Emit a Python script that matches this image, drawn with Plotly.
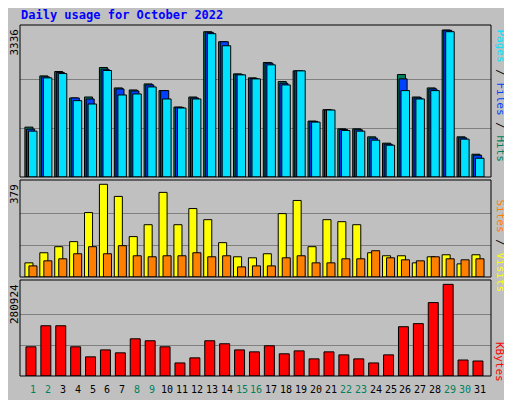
import plotly.graph_objects as go

# Data
days = list(range(1, 32))
hits = [1132, 2295, 2394, 1794, 1816, 2485, 2022, 1976, 2113, 1961, 1588, 1816, 3298, 3070, 2341, 2250,
        2599, 2166, 2409, 1269, 1528, 1094, 1094, 912, 768, 2326, 1816, 2022, 3336, 912, 517]
files = [1087, 2272, 2371, 1794, 1771, 2447, 1999, 1953, 2090, 1961, 1581, 1794, 3283, 3070, 2326, 2234,
         2584, 2128, 2409, 1262, 1520, 1079, 1072, 882, 745, 2227, 1794, 1999, 3329, 889, 494]
pages = [1041, 2250, 2348, 1733, 1657, 2417, 1862, 1885, 2044, 1771, 1566, 1771, 3253, 2979, 2318, 2227,
         2546, 2090, 2409, 1246, 1520, 1056, 1041, 836, 722, 1961, 1771, 1961, 3298, 859, 426]
sites = [56, 96, 120, 140, 255, 367, 319, 160, 207, 335, 207, 271, 227, 136, 80, 76,
         92, 251, 303, 120, 227, 219, 207, 96, 84, 84, 56, 80, 88, 52, 88]
visits = [44, 64, 72, 92, 120, 92, 124, 84, 80, 84, 84, 96, 80, 84, 40, 44,
          44, 76, 84, 56, 56, 72, 72, 104, 76, 68, 64, 80, 72, 68, 72]
kbytes = [89500, 154000, 154000, 89500, 58700, 80000, 71000, 114000, 108000, 89500, 40000, 55600, 108000,
          98800, 80000, 74000, 92600, 68000, 77000, 52500, 74000, 64800, 52500, 40000, 64800, 151000,
          160500, 225000, 280924, 49000, 46000]
weekend_days = [1, 2, 8, 9, 15, 16, 22, 23, 29, 30]

C_HITS, C_FILES, C_PAGES = "#00805C", "#0040FF", "#00E0FF"
C_SITES, C_VISITS, C_KB = "#FFFF00", "#FF8000", "#FF0000"
MONO = "DejaVu Sans Mono"

# the page body has an 8px margin, so the figure is 504x392 and sits at (8, 8)
W, H = 504, 392


def px(x):
    return (x - 8) / W


def py(y):
    return 1 - (y - 8) / H


fig = go.Figure()


def bars(y, color, offset, width, xa, ya):
    fig.add_trace(go.Bar(x=days, y=y, offset=offset, width=width, marker_color=color,
                         marker_line=dict(color="black", width=1), xaxis=xa, yaxis=ya,
                         showlegend=False, hoverinfo="skip"))


bars(hits, C_HITS, -0.54, 0.54, "x", "y")
bars(files, C_FILES, -0.43, 0.54, "x", "y")
bars(pages, C_PAGES, -0.3, 0.57, "x", "y")
bars(sites, C_SITES, -0.54, 0.54, "x2", "y2")
bars(visits, C_VISITS, -0.27, 0.54, "x2", "y2")
bars(kbytes, C_KB, -0.47, 0.67, "x3", "y3")

xd = [px(20), px(491)]
d1, d2, d3 = [py(177), py(25)], [py(277), py(180)], [py(376), py(280)]
xcommon = dict(range=[0.13, 31.74], showticklabels=False, showgrid=False, zeroline=False, domain=xd)
ycommon = dict(showticklabels=False, zeroline=False, gridcolor="#808080", gridwidth=1)

fig.update_layout(
    width=W, height=H, margin=dict(l=0, r=0, t=0, b=0),
    paper_bgcolor="#C0C0C0", plot_bgcolor="#C0C0C0", barmode="overlay",
    xaxis=dict(**xcommon, anchor="y"),
    xaxis2=dict(**xcommon, anchor="y2"),
    xaxis3=dict(**xcommon, anchor="y3"),
    yaxis=dict(**ycommon, domain=d1, range=[0, 3450], tickvals=[1112, 2224]),
    yaxis2=dict(**ycommon, domain=d2, range=[0, 384], tickvals=[126.3, 252.7]),
    yaxis3=dict(**ycommon, domain=d3, range=[0, 294200], tickvals=[93641, 187283]),
    font=dict(family=MONO, size=10, color="black"),
)

shapes = [dict(type="rect", xref="paper", yref="paper", x0=px(509), y0=py(397), x1=1, y1=0,
               fillcolor="#808080", line=dict(width=0), layer="below")]
for d in (d1, d2, d3):
    shapes.append(dict(type="rect", xref="paper", yref="paper", x0=xd[0], x1=xd[1], y0=d[0], y1=d[1],
                       line=dict(color="black", width=1)))
fig.update_layout(shapes=shapes)

ann = [dict(text="<b>Daily usage for October 2022</b>", x=px(19), y=py(15), xref="paper",
            yref="paper", xanchor="left", yanchor="middle", showarrow=False,
            font=dict(family=MONO, size=12, color="#0000FF"))]
for label, top in (("3336", 27), ("379", 182), ("280924", 282)):
    ann.append(dict(text=label, x=px(14), y=py(top), xref="paper", yref="paper", textangle=-90,
                    xanchor="center", yanchor="top", showarrow=False, font=dict(size=11)))
right = [
    ('<span style="color:%s">Pages</span> / <span style="color:%s">Files</span> / '
     '<span style="color:%s">Hits</span>' % (C_PAGES, C_FILES, C_HITS), 27),
    ('<span style="color:%s">Sites</span> / <span style="color:%s">Visits</span>' % (C_VISITS, C_SITES), 197),
    ('<span style="color:%s">KBytes</span>' % C_KB, 340),
]
for text, top in right:
    ann.append(dict(text=text, x=px(500), y=py(top), xref="paper", yref="paper", textangle=90,
                    xanchor="center", yanchor="top", showarrow=False, font=dict(size=11)))
for d in days:
    ann.append(dict(text=str(d), x=d, y=py(389), xref="x3", yref="paper", showarrow=False,
                    xanchor="center", yanchor="middle",
                    font=dict(size=10, color=C_HITS if d in weekend_days else "black")))
fig.update_layout(annotations=ann)

fig.write_html("out.html")
